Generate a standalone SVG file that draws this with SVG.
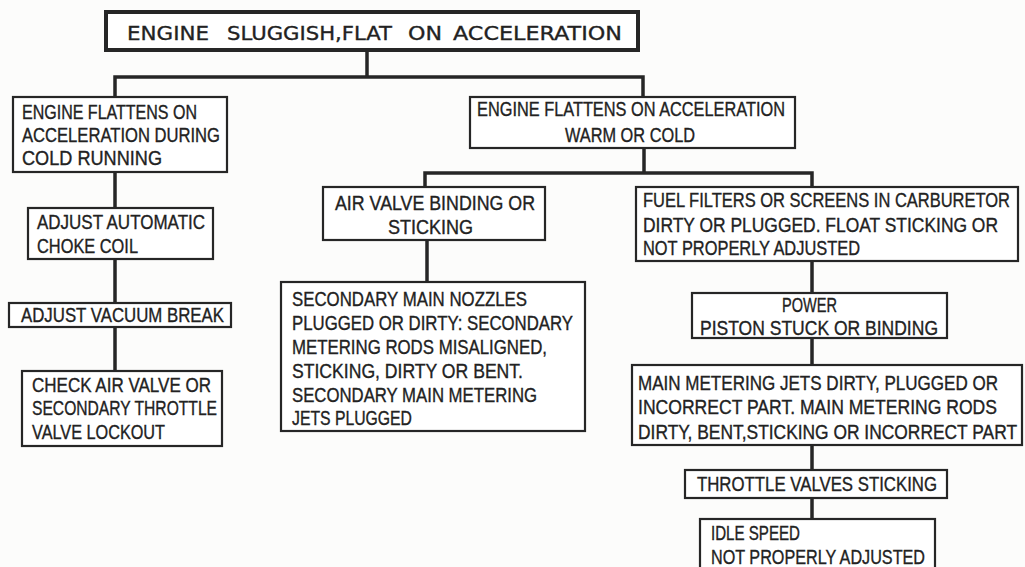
<svg xmlns="http://www.w3.org/2000/svg" width="1025" height="567" viewBox="0 0 1025 567">
<style>
.bg{fill:#fcfcfb}
.box{fill:#ffffff;stroke:#262626;stroke-width:2.2}
.tbox{fill:#ffffff;stroke:#262626;stroke-width:4}
.con{stroke:#262626;stroke-width:3.5;fill:none;stroke-linecap:square}
text{font-family:"Liberation Sans",Arial,sans-serif;font-size:20px;fill:#222222;stroke:#222222;stroke-width:0.35}
.title{font-family:"DejaVu Sans","Liberation Sans",sans-serif;font-size:20px}
</style>
<rect class="bg" x="0" y="0" width="1025" height="567"/>
<g id="connectors">
<path class="con" d="M367,50 V77 M115,77 H643 M115,77 V97 M643,77 V97"/>
<path class="con" d="M115,172 V208 M115,259 V303 M115,327 V371"/>
<path class="con" d="M644,148 V173 M425,173 H812 M425,173 V187 M812,173 V187"/>
<path class="con" d="M427,240 V282"/>
<path class="con" d="M812,261 V293 M812,338 V365 M812,445 V470 M812,498 V519"/>
</g>
<g id="n_title">
<rect class="tbox" x="106" y="12" width="532" height="38"/>
<text class="title" x="127" y="40" textLength="82" lengthAdjust="spacingAndGlyphs">ENGINE</text>
<text class="title" x="227" y="40" textLength="165" lengthAdjust="spacingAndGlyphs">SLUGGISH,FLAT</text>
<text class="title" x="408" y="40" textLength="34" lengthAdjust="spacingAndGlyphs">ON</text>
<text class="title" x="453" y="40" textLength="169" lengthAdjust="spacingAndGlyphs">ACCELERATION</text>
</g>
<g id="n_cold">
<rect class="box" x="13" y="97" width="214" height="75"/>
<text x="22" y="119" textLength="175" lengthAdjust="spacingAndGlyphs">ENGINE FLATTENS ON</text>
<text x="22" y="142" textLength="198" lengthAdjust="spacingAndGlyphs">ACCELERATION DURING</text>
<text x="22" y="165" textLength="140" lengthAdjust="spacingAndGlyphs">COLD RUNNING</text>
</g>
<g id="n_warm">
<rect class="box" x="470" y="97" width="325" height="51"/>
<text x="477" y="116" textLength="308" lengthAdjust="spacingAndGlyphs">ENGINE FLATTENS ON ACCELERATION</text>
<text x="565" y="142" textLength="130" lengthAdjust="spacingAndGlyphs">WARM OR COLD</text>
</g>
<g id="n_choke">
<rect class="box" x="28" y="208" width="185" height="51"/>
<text x="37" y="229" textLength="168" lengthAdjust="spacingAndGlyphs">ADJUST AUTOMATIC</text>
<text x="37" y="253" textLength="101" lengthAdjust="spacingAndGlyphs">CHOKE COIL</text>
</g>
<g id="n_vacuum">
<rect class="box" x="9" y="303" width="222" height="24"/>
<text x="21" y="322" textLength="203" lengthAdjust="spacingAndGlyphs">ADJUST VACUUM BREAK</text>
</g>
<g id="n_lockout">
<rect class="box" x="22" y="371" width="200" height="75"/>
<text x="32" y="392" textLength="179" lengthAdjust="spacingAndGlyphs">CHECK AIR VALVE OR</text>
<text x="32" y="415" textLength="185" lengthAdjust="spacingAndGlyphs">SECONDARY THROTTLE</text>
<text x="32" y="439" textLength="133" lengthAdjust="spacingAndGlyphs">VALVE LOCKOUT</text>
</g>
<g id="n_airvalve">
<rect class="box" x="323" y="187" width="222" height="53"/>
<text x="335" y="210" textLength="200" lengthAdjust="spacingAndGlyphs">AIR VALVE BINDING OR</text>
<text x="388" y="234" textLength="85" lengthAdjust="spacingAndGlyphs">STICKING</text>
</g>
<g id="n_secondary">
<rect class="box" x="281" y="282" width="304" height="149"/>
<text x="292" y="306" textLength="235" lengthAdjust="spacingAndGlyphs">SECONDARY MAIN NOZZLES</text>
<text x="292" y="330" textLength="281" lengthAdjust="spacingAndGlyphs">PLUGGED OR DIRTY:  SECONDARY</text>
<text x="292" y="354" textLength="255" lengthAdjust="spacingAndGlyphs">METERING RODS MISALIGNED,</text>
<text x="292" y="378" textLength="231" lengthAdjust="spacingAndGlyphs">STICKING, DIRTY OR BENT.</text>
<text x="292" y="402" textLength="245" lengthAdjust="spacingAndGlyphs">SECONDARY MAIN METERING</text>
<text x="292" y="425" textLength="120" lengthAdjust="spacingAndGlyphs">JETS PLUGGED</text>
</g>
<g id="n_fuel">
<rect class="box" x="636" y="187" width="382" height="74"/>
<text x="643" y="207" textLength="367" lengthAdjust="spacingAndGlyphs">FUEL FILTERS OR SCREENS IN CARBURETOR</text>
<text x="643" y="232" textLength="355" lengthAdjust="spacingAndGlyphs">DIRTY OR PLUGGED.  FLOAT STICKING OR</text>
<text x="643" y="255" textLength="217" lengthAdjust="spacingAndGlyphs">NOT PROPERLY ADJUSTED</text>
</g>
<g id="n_power">
<rect class="box" x="692" y="293" width="255" height="45"/>
<text x="782" y="312" textLength="55" lengthAdjust="spacingAndGlyphs">POWER</text>
<text x="700" y="335" textLength="238" lengthAdjust="spacingAndGlyphs">PISTON STUCK OR BINDING</text>
</g>
<g id="n_metering">
<rect class="box" x="632" y="365" width="390" height="80"/>
<text x="638" y="390" textLength="360" lengthAdjust="spacingAndGlyphs">MAIN METERING JETS DIRTY,  PLUGGED OR</text>
<text x="638" y="414" textLength="359" lengthAdjust="spacingAndGlyphs">INCORRECT PART.  MAIN METERING RODS</text>
<text x="638" y="439" textLength="379" lengthAdjust="spacingAndGlyphs">DIRTY, BENT,STICKING OR INCORRECT PART</text>
</g>
<g id="n_throttle">
<rect class="box" x="685" y="470" width="262" height="28"/>
<text x="697" y="491" textLength="240" lengthAdjust="spacingAndGlyphs">THROTTLE VALVES STICKING</text>
</g>
<g id="n_idle">
<rect class="box" x="700" y="519" width="235" height="60"/>
<text x="711" y="540" textLength="89" lengthAdjust="spacingAndGlyphs">IDLE SPEED</text>
<text x="711" y="564" textLength="214" lengthAdjust="spacingAndGlyphs">NOT PROPERLY ADJUSTED</text>
</g>
</svg>
